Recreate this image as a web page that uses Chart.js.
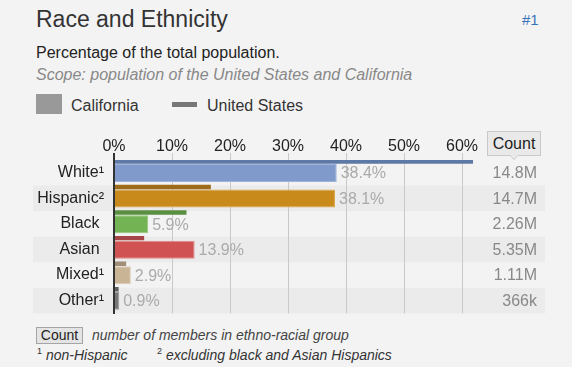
<!DOCTYPE html>
<html>
<head>
<meta charset="utf-8">
<script src="https://cdn.jsdelivr.net/npm/chart.js@4.4.0/dist/chart.umd.min.js"></script>
<style>
  html, body { margin: 0; padding: 0; background: #f3f3f3; width: 572px; height: 367px; overflow: hidden;
    font-family: "Liberation Sans", Arial, sans-serif; }
  .abs { position: absolute; white-space: nowrap; }
  #title { left: 36px; top: 8px; font-size: 23px; line-height: 23px; color: #333; }
  #rank { left: 522px; top: 12px; font-size: 15px; line-height: 15px; color: #3a74b8; }
  #sub { left: 36px; top: 45px; font-size: 16px; line-height: 16px; color: #222; }
  #scope { left: 36px; top: 67px; font-size: 16px; line-height: 16px; color: #888; font-style: italic; }
  #swatch { left: 36px; top: 94px; width: 26px; height: 20px; background: #999; }
  #lgCa { left: 71px; top: 98px; font-size: 16px; line-height: 16px; color: #333; }
  #lgLine { left: 172px; top: 102px; width: 25px; height: 5px; background: #777; }
  #lgUs { left: 207px; top: 98px; font-size: 16px; line-height: 16px; color: #333; }
  #chartBox { left: 0; top: 125px; width: 572px; height: 200px; }
  #countHead { left: 487px; top: 131px; width: 52px; height: 23px; border: 1px solid #c9c9c9; background: #e9e9e9;
    font-size: 16px; line-height: 23px; text-align: center; color: #222; }
  #countHead::before, #countHead::after { content: ""; position: absolute; left: 50%; width: 0; height: 0;
    border-left: 5px solid transparent; border-right: 5px solid transparent; }
  #countHead::before { top: 23px; margin-left: -5px; border-top: 5px solid #c9c9c9; }
  #countHead::after { top: 22px; margin-left: -5px; border-top: 5px solid #e9e9e9; }
  #countKey { left: 36px; top: 327px; width: 45px; height: 15px; border: 1px solid #a5a5a5; background: #e4e4e4;
    font-size: 14px; line-height: 15px; text-align: center; color: #222; }
  #countNote { left: 92px; top: 328px; font-size: 14px; line-height: 14px; color: #444; font-style: italic; }
  .fn { top: 348px; font-size: 14px; line-height: 14px; color: #333; font-style: italic; }
  .fn sup { font-size: 9px; font-style: normal; vertical-align: 6px; line-height: 0; }
  #fn1 { left: 37px; }
  #fn2 { left: 157px; }
</style>
</head>
<body>
<div class="abs" id="title">Race and Ethnicity</div>
<div class="abs" id="rank">#1</div>
<div class="abs" id="sub">Percentage of the total population.</div>
<div class="abs" id="scope">Scope: population of the United States and California</div>
<div class="abs" id="swatch"></div>
<div class="abs" id="lgCa">California</div>
<div class="abs" id="lgLine"></div>
<div class="abs" id="lgUs">United States</div>
<div class="abs" id="chartBox"><canvas id="myChart"></canvas></div>
<div class="abs" id="countHead">Count</div>
<div class="abs" id="countKey">Count</div>
<div class="abs" id="countNote">number of members in ethno-racial group</div>
<div class="abs fn" id="fn1"><sup>1</sup> non-Hispanic</div>
<div class="abs fn" id="fn2"><sup>2</sup> excluding black and Asian Hispanics</div>

<script>
// data
const categories = ['White', 'Hispanic', 'Black', 'Asian', 'Mixed', 'Other'];
const footMarks = ['\u00B9', '\u00B2', '', '', '\u00B9', '\u00B9'];
const california = [38.4, 38.1, 5.9, 13.9, 2.9, 0.9];
const unitedStates = [61.9, 16.7, 12.5, 5.2, 2.1, 0.8];
const counts = [14.8e6, 14.7e6, 2.26e6, 5.35e6, 1.11e6, 366e3];
const xTicks = [0, 10, 20, 30, 40, 50, 60];

// colours
const caColors = ['#7f9acb', '#c98a1c', '#74b354', '#d05252', '#c9b596', '#777777'];
const caBorders = ['#9fb4da', '#dba64a', '#92c676', '#e28a8a', '#dccbb3', '#999999'];
const usColors = ['#5f79a6', '#9c6c1a', '#5a8f42', '#a54545', '#a08e76', '#5e5e5e'];

const FONT = '"Liberation Sans", Arial, sans-serif';

function fmtCount(n) {
  return n >= 1e6 ? +(n / 1e6).toPrecision(3) + 'M' : +(n / 1e3).toPrecision(3) + 'k';
}

// row bands, value labels and the count column
const rowsPlugin = {
  id: 'rows',
  beforeDraw(chart) {
    const { ctx, chartArea, scales: { y } } = chart;
    const band = (chartArea.bottom - chartArea.top) / categories.length;
    ctx.save();
    ctx.fillStyle = '#ebebeb';
    categories.forEach((c, i) => {
      if (i % 2 === 1) ctx.fillRect(33, y.getPixelForValue(i) - band / 2, 512, band);
    });
    ctx.restore();
  },
  afterDatasetsDraw(chart) {
    const { ctx, scales: { y } } = chart;
    const caMeta = chart.getDatasetMeta(1);
    ctx.save();
    ctx.font = '16px ' + FONT;
    ctx.textBaseline = 'middle';
    ctx.textAlign = 'left';
    ctx.fillStyle = '#aaaaaa';
    caMeta.data.forEach((bar, i) => {
      ctx.fillText(california[i].toFixed(1) + '%', bar.x + 4, bar.y + 1);
    });
    ctx.textAlign = 'right';
    ctx.fillStyle = '#888888';
    counts.forEach((n, i) => ctx.fillText(fmtCount(n), 537, y.getPixelForValue(i) + 1));
    ctx.restore();
  }
};

const ctx = document.getElementById('myChart').getContext('2d');

const data = {
  labels: categories,
  datasets: [
    {
      label: 'United States',
      data: unitedStates,
      backgroundColor: usColors,
      borderWidth: 0,
      categoryPercentage: 1.78,
      barPercentage: 0.196,
    },
    {
      label: 'California',
      data: california,
      backgroundColor: caColors,
      borderColor: caBorders,
      borderWidth: 1,
      categoryPercentage: 0.04,
      barPercentage: 40,
      maxBarThickness: 18,
    },
  ],
};

const options = {
  indexAxis: 'y',
  responsive: true,
  maintainAspectRatio: false,
  animation: false,
  events: [],
  layout: { padding: { left: 0, right: 81, top: 0, bottom: 8.4 } },
  plugins: { legend: { display: false }, tooltip: { enabled: false } },
  scales: {
    x: {
      position: 'top',
      min: 0,
      max: 65,
      afterBuildTicks: (s) => { s.ticks = xTicks.map((v) => ({ value: v })); },
      afterFit: (s) => { s.height = 35; },
      border: { display: false },
      grid: {
        color: (c) => (c.tick && c.tick.value === 0 ? '#333333' : '#c9c9c9'),
        lineWidth: (c) => (c.tick && c.tick.value === 0 ? 2 : 1),
        tickLength: 7,
      },
      ticks: {
        color: '#222',
        font: { size: 16, family: FONT },
        padding: -3.5,
        maxRotation: 0,
        callback: (v) => v + '%',
      },
    },
    y: {
      afterFit: (s) => { s.width = 114; },
      grid: { display: false },
      border: { display: true, color: '#333333', width: 2, z: 1 },
      ticks: {
        color: '#222',
        font: { size: 16, family: FONT },
        padding: 2,
        callback: (v, i) => categories[i] + (footMarks[i] || '\u2008'),
      },
    },
  },
};

const config = { type: 'bar', data, options, plugins: [rowsPlugin] };

const myChart = new Chart(ctx, config);
</script>
</body>
</html>
